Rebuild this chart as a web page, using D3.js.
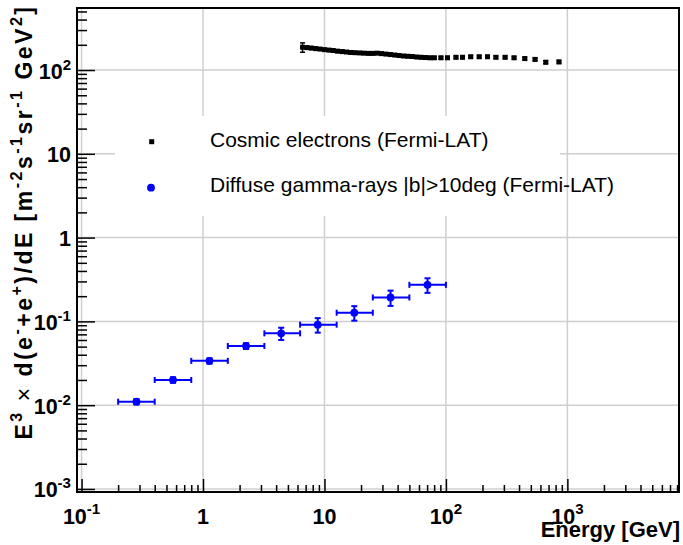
<!DOCTYPE html>
<html>
<head>
<meta charset="utf-8">
<script src="https://cdn.jsdelivr.net/npm/d3@7"></script>
<style>
  body { margin: 0; background: #fff; }
  svg { display: block; font-family: "Liberation Sans", Arial, Helvetica, sans-serif; }
</style>
</head>
<body>
<div id="chart"></div>
<script>
// cosmic electron spectrum (Fermi-LAT), E^3 dN/dE
const elecEnergy = [6.6, 7.17, 7.79, 8.47, 9.2, 10.0, 10.9, 11.8, 12.8, 14.0, 15.2, 16.5, 17.9, 19.5, 21.1,
    23.0, 25.0, 27.2, 29.5, 32.1, 34.9, 37.9, 41.2, 44.8, 48.6, 52.8, 57.4, 62.4, 67.9, 73.8,
    80.2, 91, 103, 121, 137, 160, 188, 220, 258, 307, 364, 446, 542, 664, 853]
const elecFlux = [187, 185, 183, 180, 178, 175, 173, 171, 168, 166, 164, 162, 161, 160, 159,
    158, 158, 159, 157, 155, 153, 151, 149, 147, 146, 145, 143, 142, 141, 140,
    140, 140, 140, 142, 142, 144, 144, 144, 142, 142, 140, 137, 134, 124, 125]
const elecErr = [24, 8, 7, 7, 6, 6, 6, 6, 6, 5, 5, 5, 5, 5, 5,
    5, 5, 5, 5, 5, 5, 5, 5, 5, 5, 5, 5, 5, 5, 5,
    5, 5, 5, 5, 5, 5, 5, 5, 5, 5, 5, 5, 5, 5, 5]

// diffuse gamma-rays |b|>10deg (Fermi-LAT)
const gamEnergy = [0.283, 0.566, 1.13, 2.26, 4.4, 8.8, 17.6, 35.0, 70.5]
const gamLow = [0.2, 0.4, 0.8, 1.6, 3.2, 6.3, 12.6, 25, 50]
const gamHigh = [0.4, 0.8, 1.6, 3.2, 6.3, 12.6, 25, 50, 100]
const gamFlux = [0.011, 0.020, 0.0338, 0.0509, 0.072, 0.0914, 0.127, 0.193, 0.273]
const gamErr = [0.0008, 0.0015, 0.0025, 0.004, 0.012, 0.018, 0.025, 0.04, 0.054]

const xTickLabels = [['10', '-1'], ['1', ''], ['10', ''], ['10', '2'], ['10', '3']]
const xTickValues = [0.1, 1, 10, 100, 1000]
const yTickLabels = [['10', '-3'], ['10', '-2'], ['10', '-1'], ['1', ''], ['10', ''], ['10', '2']]
const yTickValues = [0.001, 0.01, 0.1, 1, 10, 100]

const legendLabels = ['Cosmic electrons (Fermi-LAT)', 'Diffuse gamma-rays |b|>10deg (Fermi-LAT)']

const W = 683, H = 545
const frame = { left: 77, right: 679, top: 8, bottom: 492 }

const svg = d3.select('#chart').append('svg')
    .attr('width', W)
    .attr('height', H)

const x = d3.scaleLog()
    .domain([0.0917, 8300])
    .range([frame.left, frame.right])

const y = d3.scaleLog()
    .domain([0.00092, 550])
    .range([frame.bottom, frame.top])

const isMajor = v => Math.abs(Math.log10(v) - Math.round(Math.log10(v))) < 1e-6

// grid lines
const grid = svg.append('g')
grid.selectAll('.vgrid')
    .data(xTickValues)
    .enter()
    .append('line')
        .attr('x1', d => x(d)).attr('x2', d => x(d))
        .attr('y1', frame.top).attr('y2', frame.bottom)
        .attr('stroke', '#cfcfcf')
        .attr('stroke-width', 1.5)
grid.selectAll('.hgrid')
    .data(yTickValues)
    .enter()
    .append('line')
        .attr('x1', frame.left).attr('x2', frame.right)
        .attr('y1', d => y(d)).attr('y2', d => y(d))
        .attr('stroke', '#cfcfcf')
        .attr('stroke-width', 1.5)

// legend box (white, hides grid)
const legend = svg.append('g')
legend.append('rect')
    .attr('x', 115).attr('y', 116)
    .attr('width', 445).attr('height', 100)
    .attr('fill', '#fff')

// axes, ticks drawn inside the frame
const xMinor = x.ticks().filter(d => !isMajor(d))
const yMinor = y.ticks().filter(d => !isMajor(d))

const axisStyle = g => {
    g.selectAll('.domain').remove()
    g.selectAll('.tick line').attr('stroke', '#000').attr('stroke-width', 1.5)
    g.selectAll('.tick text').remove()
}

svg.append('g')
    .attr('transform', `translate(0,${frame.bottom})`)
    .call(d3.axisBottom(x).tickValues(xTickValues).tickSize(-13).tickFormat(''))
    .call(axisStyle)
svg.append('g')
    .attr('transform', `translate(0,${frame.bottom})`)
    .call(d3.axisBottom(x).tickValues(xMinor).tickSize(-7).tickFormat(''))
    .call(axisStyle)
svg.append('g')
    .attr('transform', `translate(${frame.left},0)`)
    .call(d3.axisLeft(y).tickValues(yTickValues).tickSize(-18).tickFormat(''))
    .call(axisStyle)
svg.append('g')
    .attr('transform', `translate(${frame.left},0)`)
    .call(d3.axisLeft(y).tickValues(yMinor).tickSize(-10).tickFormat(''))
    .call(axisStyle)

// frame
svg.append('rect')
    .attr('x', frame.left).attr('y', frame.top)
    .attr('width', frame.right - frame.left)
    .attr('height', frame.bottom - frame.top)
    .attr('fill', 'none')
    .attr('stroke', '#000')
    .attr('stroke-width', 2)

// text with superscripts: parts = [[text, isSup, weight]]
const richText = (sel, parts, size) => {
    const shift = size * 0.42
    let raised = false
    parts.forEach(p => {
        const t = sel.append('tspan').text(p[0])
        if (p[2]) t.attr('font-weight', p[2])
        if (p[1]) {
            t.attr('font-size', size * 0.7)
            if (!raised) t.attr('dy', -shift)
            raised = true
        } else if (raised) {
            t.attr('dy', shift)
            raised = false
        }
    })
}

// tick labels
const labelSize = 21.5
xTickValues.forEach((v, i) => {
    const t = svg.append('text')
        .attr('x', x(v)).attr('y', 523.5)
        .attr('text-anchor', 'middle')
        .attr('font-weight', 'bold')
        .attr('font-size', labelSize)
    const parts = [[xTickLabels[i][0], false]]
    if (xTickLabels[i][1]) parts.push([xTickLabels[i][1], true])
    richText(t, parts, labelSize)
})
yTickValues.forEach((v, i) => {
    const t = svg.append('text')
        .attr('x', 71).attr('y', y(v) + 8.5)
        .attr('text-anchor', 'end')
        .attr('font-weight', 'bold')
        .attr('font-size', labelSize)
    const parts = [[yTickLabels[i][0], false]]
    if (yTickLabels[i][1]) parts.push([yTickLabels[i][1], true])
    richText(t, parts, labelSize)
})

// axis titles
svg.append('text')
    .attr('x', 680).attr('y', 537)
    .attr('text-anchor', 'end')
    .attr('font-weight', 'bold')
    .attr('font-size', 22)
    .text('Energy [GeV]')

const titleSize = 23
const yTitle = svg.append('text')
    .attr('transform', 'translate(32,222) rotate(-90)')
    .attr('text-anchor', 'middle')
    .attr('font-weight', 'bold')
    .attr('font-size', titleSize)
richText(yTitle, [
    ['E', false], ['3', true], [' \u00d7 ', false, 'normal'], ['d(e', false], ['-', true], ['+e', false], ['+', true],
    [')/dE [m', false], ['-2', true], ['s', false], ['-1', true], ['sr', false], ['-1', true], [' GeV', false], ['2', true], [']', false]
], titleSize)
// spread the title over the same length as the reference (~435px)
const titleLen = yTitle.node().getComputedTextLength()
const nChars = yTitle.text().length
yTitle.attr('letter-spacing', Math.max(0, (435 - titleLen) / nChars))

// electrons: error bars + squares
const elec = elecEnergy.map((e, i) => ({ e, v: elecFlux[i], err: elecErr[i] }))
const eg = svg.append('g')
eg.selectAll('.eerr')
    .data(elec)
    .enter()
    .append('line')
        .attr('x1', d => x(d.e)).attr('x2', d => x(d.e))
        .attr('y1', d => y(d.v + d.err)).attr('y2', d => y(d.v - d.err))
        .attr('stroke', '#000').attr('stroke-width', 1.5)
eg.selectAll('.ecap')
    .data(elec.flatMap(d => [d.v + d.err, d.v - d.err].map(v => ({ e: d.e, v }))))
    .enter()
    .append('line')
        .attr('x1', d => x(d.e) - 2.5).attr('x2', d => x(d.e) + 2.5)
        .attr('y1', d => y(d.v)).attr('y2', d => y(d.v))
        .attr('stroke', '#000').attr('stroke-width', 1.5)
eg.selectAll('.esq')
    .data(elec)
    .enter()
    .append('rect')
        .attr('x', d => x(d.e) - 2.5)
        .attr('y', d => y(d.v) - 2.5)
        .attr('width', 5).attr('height', 5)
        .attr('fill', '#000')

// gamma rays: error bars + circles
const gam = gamEnergy.map((e, i) => ({ e, lo: gamLow[i], hi: gamHigh[i], v: gamFlux[i], err: gamErr[i] }))
const gg = svg.append('g')
    .attr('stroke', '#0000ff')
    .attr('stroke-width', 2)
gg.selectAll('.hbar')
    .data(gam)
    .enter()
    .append('line')
        .attr('x1', d => x(d.lo)).attr('x2', d => x(d.hi))
        .attr('y1', d => y(d.v)).attr('y2', d => y(d.v))
gg.selectAll('.hcap')
    .data(gam.flatMap(d => [d.lo, d.hi].map(e => ({ e, v: d.v }))))
    .enter()
    .append('line')
        .attr('x1', d => x(d.e)).attr('x2', d => x(d.e))
        .attr('y1', d => y(d.v) - 3).attr('y2', d => y(d.v) + 3)
gg.selectAll('.vbar')
    .data(gam)
    .enter()
    .append('line')
        .attr('x1', d => x(d.e)).attr('x2', d => x(d.e))
        .attr('y1', d => y(d.v + d.err)).attr('y2', d => y(d.v - d.err))
gg.selectAll('.vcap')
    .data(gam.flatMap(d => [d.v + d.err, d.v - d.err].map(v => ({ e: d.e, v }))))
    .enter()
    .append('line')
        .attr('x1', d => x(d.e) - 3).attr('x2', d => x(d.e) + 3)
        .attr('y1', d => y(d.v)).attr('y2', d => y(d.v))
gg.selectAll('.gpt')
    .data(gam)
    .enter()
    .append('circle')
        .attr('cx', d => x(d.e))
        .attr('cy', d => y(d.v))
        .attr('r', 3.9)
        .attr('fill', '#0000ff')
        .attr('stroke', 'none')

// legend entries
legend.append('rect')
    .attr('x', 149.2).attr('y', 139.2)
    .attr('width', 5).attr('height', 5)
    .attr('fill', '#000')
legend.append('circle')
    .attr('cx', 151).attr('cy', 187.7)
    .attr('r', 3.9)
    .attr('fill', '#0000ff')
legend.selectAll('.ltext')
    .data(legendLabels)
    .enter()
    .append('text')
        .attr('x', 210)
        .attr('y', (d, i) => 146.7 + i * 45.5)
        .attr('font-size', 21)
        .text(d => d)
</script>
</body>
</html>
